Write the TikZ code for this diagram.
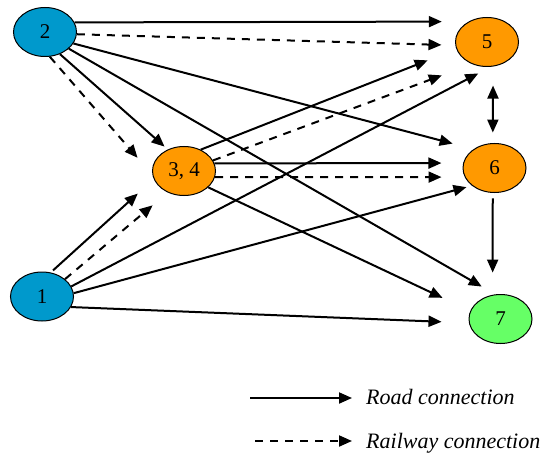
\documentclass[tikz,border=0pt]{standalone}
\usepackage{fontspec}
\setmainfont{Liberation Serif}
\usetikzlibrary{arrows.meta,shapes.geometric}
\definecolor{nblue}{HTML}{0099CC}
\definecolor{norange}{HTML}{FF9900}
\definecolor{ngreen}{HTML}{66FF66}
\begin{document}
\begin{tikzpicture}[x=1pt,y=1pt,
  nd/.style={ellipse,draw,line width=1pt,minimum width=63pt,minimum height=49pt,inner sep=0pt,font=\fontsize{21}{24}\selectfont},
  road/.style={line width=2pt,-{Triangle[length=13pt,width=11pt]}},
  rail/.style={road,dash pattern=on 8pt off 7pt},
  both/.style={line width=2pt,{Triangle[length=13pt,width=11pt]}-{Triangle[length=13pt,width=11pt]}},
  legtext/.style={anchor=base west,inner sep=0pt,font=\fontsize{22}{26}\selectfont\itshape}]
\useasboundingbox (0,0) rectangle (543,456);
% nodes
\node[nd,fill=nblue]   (n2)  at (45,424)    {2};
\node[nd,fill=norange] (n34) at (184,285)   {3, 4};
\node[nd,fill=norange] (n5)  at (487,414)   {5};
\node[nd,fill=norange] (n6)  at (494.5,288) {6};
\node[nd,fill=nblue]   (n1)  at (42,159.5)  {1};
\node[nd,fill=ngreen]  (n7)  at (500.5,137) {7};
% from 2
\draw[road,shorten >=26.8pt] (n2.18) -- (n5.132);
\draw[rail,shorten >=13.8pt] (n2.-4) -- (n5.186);
\draw[road,shorten >=21.6pt] (n2.-22) -- (n6.138);
\draw[road,shorten >=15.6pt] (n2.-35) -- (n7.102);
\draw[road,shorten >=4.3pt]  (n2.-56) -- (n34.127);
\draw[rail,shorten >=22.6pt] (n2.-79) -- (n34.187);
% from 3,4
\draw[road,shorten >=30.8pt] (n34.52) -- (n5.193);
\draw[rail,shorten >=32.3pt] (n34.20) -- (n5.236);
\draw[road,shorten >=21.7pt] (n34.14) -- (n6.171);
\draw[rail,shorten >=23.2pt] (n34.-11) -- (n6.197);
\draw[road,shorten >=30.6pt] (n34.-34) -- (n7.165);
% from 1
\draw[road,shorten <=3pt,shorten >=21.5pt] (n1.70) -- (n34.195);
\draw[rail,shorten >=19.8pt] (n1.37) -- (n34.233);
\draw[road,shorten >=14.3pt] (n1.19) -- (n5.-81);
\draw[road,shorten >=5.6pt]  (n1.6) -- (n6.-142);
\draw[road,shorten >=27.4pt] (n1.-20) -- (n7.187);
% right column
\draw[both,shorten <=19pt,shorten >=10.5pt] (n5.-76) -- (n6.94);
\draw[road,shorten <=5.5pt,shorten >=22.2pt] (n6.-94) -- (n7.108);
% legend
\coordinate (r0) at (250,58);
\coordinate (r1) at (352,58);
\coordinate (w0) at (255,15);
\coordinate (w1) at (352,15);
\draw[road] (r0) -- (r1);
\draw[rail] (w0) -- (w1);
\node[legtext] (lr) at (366,52) {Road connection};
\node[legtext] (lw) at (366,8)  {Railway connection};
\end{tikzpicture}
\end{document}
